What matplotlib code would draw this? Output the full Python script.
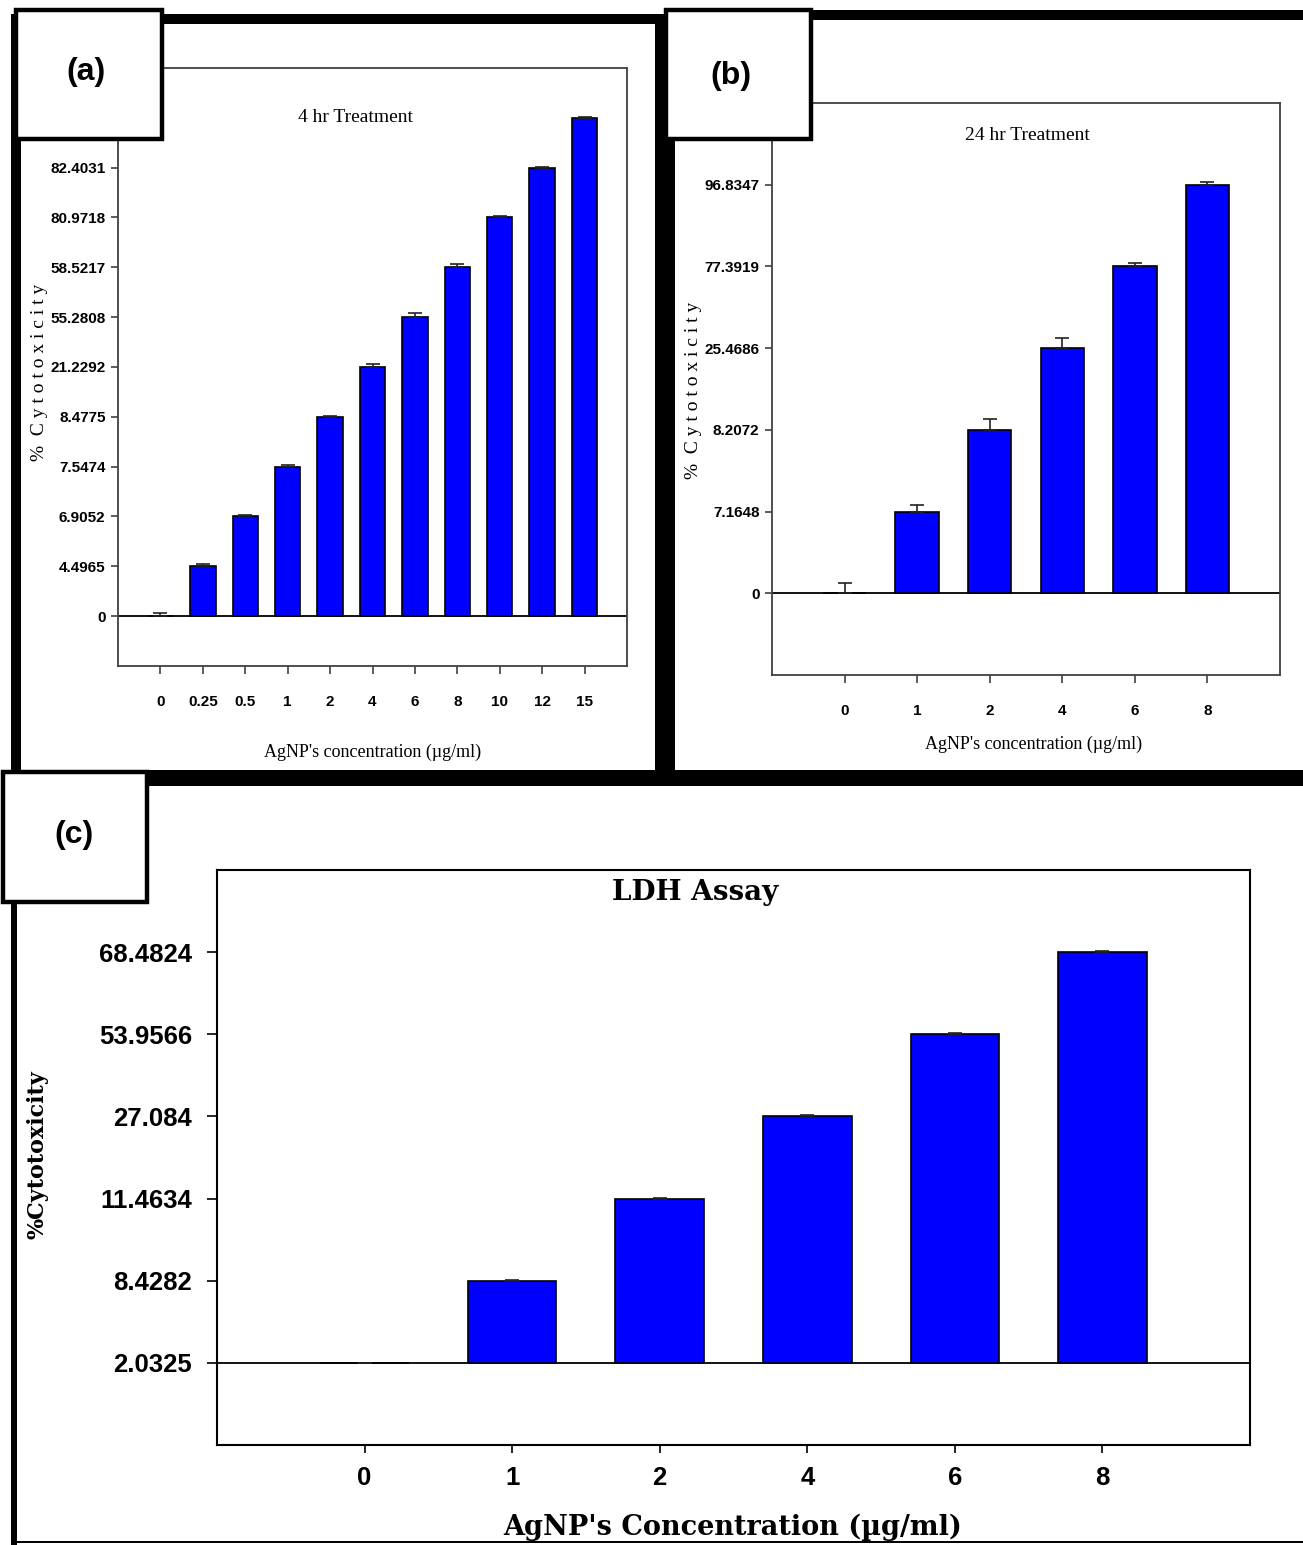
import numpy as np
import matplotlib
matplotlib.use("Agg")
import matplotlib.pyplot as plt
from matplotlib.patches import Rectangle

plt.rcParams["font.family"] = ["Liberation Sans", "DejaVu Sans"]

# ---- data (bar tops are given in tick steps: the y axes are not linear) ----
a_conc = ["0", "0.25", "0.5", "1", "2", "4", "6", "8", "10", "12", "15"]
a_yticks = ["0", "4.4965", "6.9052", "7.5474", "8.4775", "21.2292",
            "55.2808", "58.5217", "80.9718", "82.4031"]
a_height = [0, 1, 2, 3, 4, 5, 6, 7, 8, 9, 10]
a_err = [0.06, 0.04, 0.04, 0.03, 0.02, 0.06, 0.08, 0.06, 0.04, 0.02, 0.02]

b_conc = ["0", "1", "2", "4", "6", "8"]
b_yticks = ["0", "7.1648", "8.2072", "25.4686", "77.3919", "96.8347"]
b_height = [0, 1, 2, 3, 4, 5]
b_err = [0.13, 0.08, 0.13, 0.13, 0.04, 0.03]

c_conc = ["0", "1", "2", "4", "6", "8"]
c_yticks = ["2.0325", "8.4282", "11.4634", "27.084", "53.9566", "68.4824"]
c_height = [0, 1, 2, 3, 4, 5]
c_err = [0, 0.01, 0.01, 0.02, 0.01, 0.01]

W, H = 1303, 1545
fig = plt.figure(figsize=(W / 100, H / 100), dpi=100)


def add_ax(l, t, r, b):
    return fig.add_axes([l / W, 1 - b / H, (r - l) / W, (b - t) / H])


def fx(x):
    return x / W


def fy(y):
    return 1 - y / H


def draw_panel(ax, conc, height, err, yticks, top, frame_col, lw,
               tick_size, xpad, ylen, ypad):
    x = np.arange(len(conc))
    ax.bar(x, height, width=0.6, color="#0000FF", edgecolor="black",
           linewidth=1.2, zorder=3)
    ax.errorbar(x, height, yerr=[np.zeros(len(err)), err], fmt="none",
                ecolor="#222222", elinewidth=1.2, capsize=5, capthick=1.2,
                zorder=4)
    ax.axhline(0, color="black", lw=1.3, zorder=2)
    ax.set_xlim(-1, len(conc))
    ax.set_ylim(-1, top)
    ax.set_xticks(x)
    ax.set_xticklabels(conc, size=tick_size, weight="bold")
    ax.set_yticks(np.arange(len(yticks)))
    ax.set_yticklabels(yticks, size=tick_size, weight="bold")
    ax.tick_params(axis="x", length=6, width=1.2, pad=xpad, colors=frame_col,
                   labelcolor="black")
    ax.tick_params(axis="y", length=ylen, width=1.2, pad=ypad,
                   colors=frame_col, labelcolor="black")
    for s in ax.spines.values():
        s.set_color(frame_col)
        s.set_linewidth(lw)


# (a) 4 hr
ax_a = add_ax(118, 68, 627, 666)
draw_panel(ax_a, a_conc, a_height, a_err, a_yticks, 11, "#404040", 1.3,
           11, 15, 5, 4)
fig.text(fx(355), fy(118), "4 hr Treatment", family="Liberation Serif",
         size=14, ha="center", va="center")
fig.text(fx(373), fy(752), "AgNP's concentration (\u00b5g/ml)",
         family="Liberation Serif", size=13, ha="center", va="center")
fig.text(fx(40), fy(372), "%  C y t o t o x i c i t y",
         family="Liberation Serif", size=14, rotation=90,
         ha="center", va="center")

# (b) 24 hr
ax_b = add_ax(772, 103, 1280, 675)
draw_panel(ax_b, b_conc, b_height, b_err, b_yticks, 6, "#404040", 1.3,
           11, 15, 5, 4)
fig.text(fx(1027), fy(135), "24 hr Treatment", family="Liberation Serif",
         size=14, ha="center", va="center")
fig.text(fx(1034), fy(744), "AgNP's concentration (\u00b5g/ml)",
         family="Liberation Serif", size=13, ha="center", va="center")
fig.text(fx(693), fy(390), "%  C y t o t o x i c i t y",
         family="Liberation Serif", size=14, rotation=90,
         ha="center", va="center")

# (c) LDH
ax_c = add_ax(217, 870, 1250, 1445)
draw_panel(ax_c, c_conc, c_height, c_err, c_yticks, 6, "black", 1.5,
           18.5, 9, 7, 11)
fig.text(fx(695), fy(893), "LDH Assay", family="DejaVu Serif",
         weight="bold", size=20, ha="center", va="center")
fig.text(fx(733), fy(1527), "AgNP's Concentration (\u00b5g/ml)",
         family="DejaVu Serif", weight="bold", size=19.5,
         ha="center", va="center")
fig.text(fx(38), fy(1155), "%Cytotoxicity", family="DejaVu Serif",
         weight="bold", size=16, rotation=90, ha="center", va="center")

# ---- thick frames and the label boxes on top ----
ov = fig.add_axes([0, 0, 1, 1], zorder=10)
ov.set_xlim(0, W)
ov.set_ylim(H, 0)
ov.axis("off")
ov.patch.set_alpha(0)

for x0, y0, w, h in [(11, 14, 10, 756), (11, 14, 654, 10), (655, 14, 20, 772),
                     (665, 10, 638, 10), (11, 770, 1292, 16),
                     (11, 786, 6, 759), (11, 1541, 1292, 2)]:
    ov.add_patch(Rectangle((x0, y0), w, h, facecolor="black", edgecolor="none"))

boxes = [(16, 10, 146, 129, "(a)", 86, 72), (666, 10, 145, 129, "(b)", 731, 76),
         (3, 772, 144, 130, "(c)", 74, 835)]
for x0, y0, w, h, lab, tx, ty in boxes:
    ov.add_patch(Rectangle((x0, y0), w, h, facecolor="white",
                           edgecolor="black", linewidth=3.2))
    ov.text(tx, ty, lab, size=23, weight="bold", ha="center", va="center")

fig.savefig("out.png", dpi=100)
